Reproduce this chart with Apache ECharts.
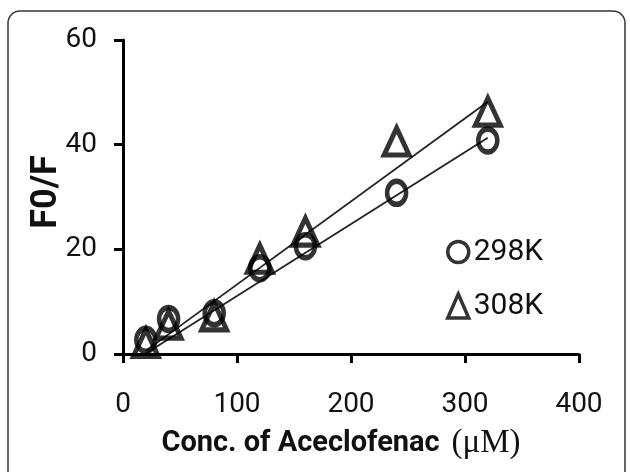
<!DOCTYPE html>
<html lang="en">
<head>
    <meta charset="UTF-8">
    <title>F0/F vs Aceclofenac</title>
    <style>
        html, body { margin: 0; padding: 0; background: #fff; }
    </style>
</head>
<body>
    <div id="chart" style="width:630px; height:472px"></div>

    <script src="https://cdn.jsdelivr.net/npm/echarts@6/dist/echarts.min.js"></script>
    <script>
        // concentration (uM)
        const conc = [20, 40, 80, 120, 160, 240, 320];
        // F0/F at 298K and 308K
        const f298 = [2.7, 6.7, 7.8, 16.4, 20.6, 30.8, 40.8];
        const f308 = [2.1, 5.6, 7.2, 18.2, 23.4, 40.6, 46.3];
        // trendline end points
        const fit298 = [[20, 0.1], [320, 41.3]];
        const fit308 = [[20, 0.6], [320, 48.2]];
        const xTicks = [0, 100, 200, 300, 400];
        const yTicks = [0, 20, 40, 60];

        const sans = "Roboto, 'Liberation Sans', sans-serif";
        const markStyle = { color: 'rgba(0,0,0,0)', borderColor: '#000', borderWidth: 5 };

        const chart = echarts.init(document.getElementById('chart'));

        chart.setOption({
            backgroundColor: '#fff',
            animation: false,
            textStyle: { fontFamily: sans },
            grid: { left: 123, right: 51, top: 40, bottom: 118 },
            // rounded frame round the figure
            graphic: [{
                type: 'rect',
                shape: { x: 8, y: 11, width: 617, height: 490, r: 12 },
                style: { fill: 'none', stroke: '#333', lineWidth: 1.5 },
                silent: true
            }],
            legend: {
                left: 441,
                top: 232,
                orient: 'vertical',
                itemWidth: 21,
                itemHeight: 24,
                itemGap: 24,
                itemStyle: { color: 'rgba(0,0,0,0)', borderColor: '#000', borderWidth: 3.5 },
                textStyle: { fontSize: 30, lineHeight: 30, color: '#111', fontFamily: sans },
                data: [
                    { name: '298K', icon: 'circle' },
                    { name: '308K', icon: 'triangle' }
                ]
            },
            xAxis: {
                type: 'value',
                min: xTicks[0],
                max: xTicks[xTicks.length - 1],
                interval: 100,
                name: '{a|Conc. of Aceclofenac}    {b|(μM)}',
                nameLocation: 'middle',
                nameGap: 73,
                nameMoveOverlap: false,
                nameTextStyle: {
                    padding: [0, 20, 0, 0],
                    rich: {
                        a: { fontFamily: sans, fontWeight: 'bold', fontSize: 29, color: '#111' },
                        b: { fontFamily: "'Liberation Serif', serif", fontSize: 33, color: '#111' }
                    }
                },
                splitLine: { show: false },
                axisLine: { onZero: false, lineStyle: { color: '#000', width: 3 } },
                axisTick: { length: 9, lineStyle: { color: '#000', width: 3 } },
                axisLabel: { margin: 37, fontSize: 28, color: '#111', fontFamily: sans }
            },
            yAxis: {
                type: 'value',
                min: yTicks[0],
                max: yTicks[yTicks.length - 1],
                interval: 20,
                name: 'F0/F',
                nameLocation: 'middle',
                nameGap: 58,
                nameMoveOverlap: false,
                nameTextStyle: { fontFamily: sans, fontWeight: 'bold', fontSize: 36, color: '#111', padding: [0, 0, 0, 10] },
                splitLine: { show: false },
                axisLine: { show: true, lineStyle: { color: '#000', width: 3 } },
                axisTick: { show: true, length: 9, lineStyle: { color: '#000', width: 3 } },
                axisLabel: { margin: 26, fontSize: 28, color: '#111', fontFamily: sans }
            },
            series: [
                {
                    name: 'fit298',
                    type: 'line',
                    data: fit298,
                    showSymbol: false,
                    silent: true,
                    lineStyle: { color: '#222', width: 1.8 },
                    z: 1
                },
                {
                    name: 'fit308',
                    type: 'line',
                    data: fit308,
                    showSymbol: false,
                    silent: true,
                    lineStyle: { color: '#222', width: 1.8 },
                    z: 1
                },
                {
                    name: '298K',
                    type: 'scatter',
                    symbol: 'circle',
                    symbolSize: [19, 23],
                    itemStyle: markStyle,
                    data: conc.map((c, i) => [c, f298[i]]),
                    z: 3
                },
                {
                    name: '308K',
                    type: 'scatter',
                    symbol: 'triangle',
                    symbolSize: [25, 27],
                    itemStyle: markStyle,
                    data: conc.map((c, i) => [c, f308[i]]),
                    z: 4
                }
            ]
        });
    </script>
</body>
</html>
